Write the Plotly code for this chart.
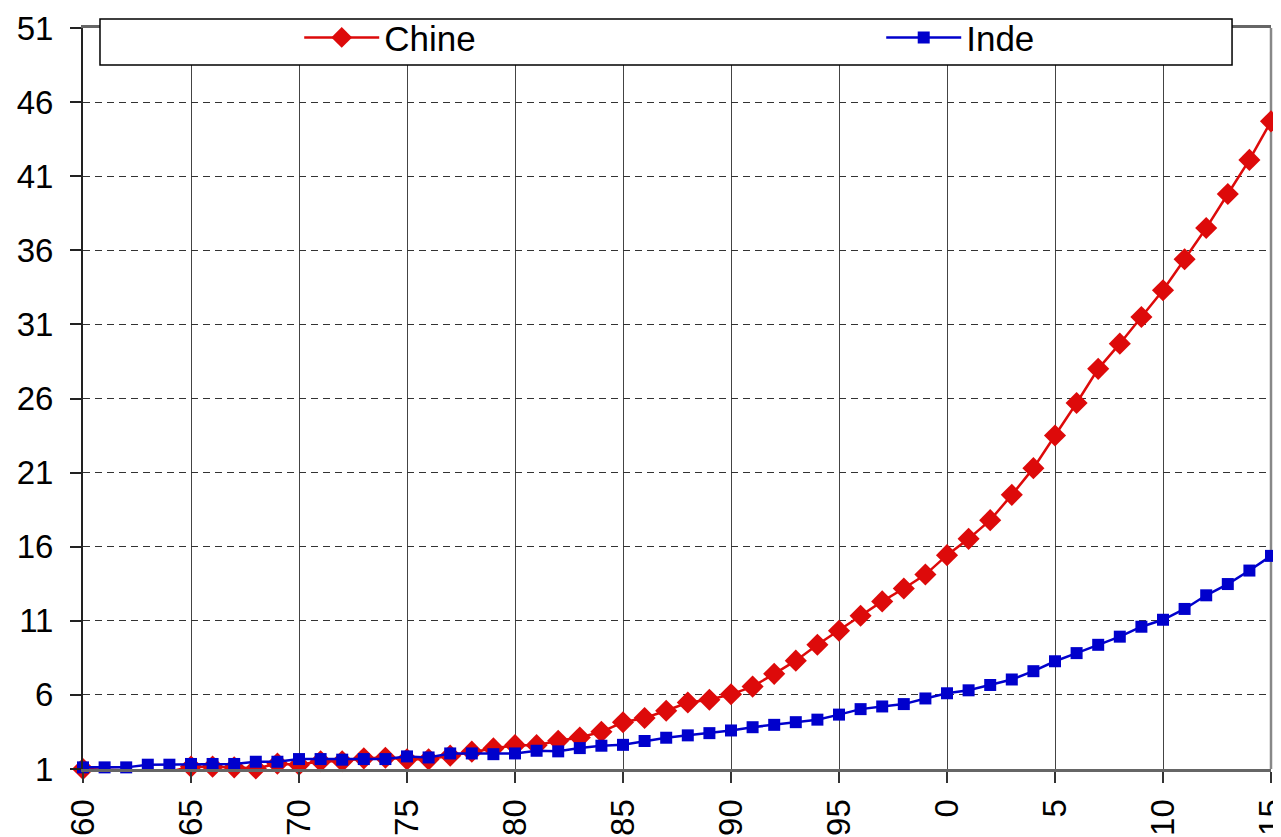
import plotly.graph_objects as go

years = list(range(1960, 2016))

chine = [1.0, None, None, None, 0.82, 1.16, 1.16, 1.11, 1.04, 1.36,
         1.29, 1.52, 1.52, 1.72, 1.76, 1.65, 1.65, 1.90, 2.17, 2.39,
         2.61, 2.61, 2.91, 3.13, 3.51, 4.15, 4.44, 4.93, 5.49, 5.67,
         6.04, 6.56, 7.42, 8.31, 9.38, 10.33, 11.34, 12.31, 13.18, 14.12,
         15.43, 16.53, 17.79, 19.5, 21.3, 23.5, 25.7, 28.0, 29.7, 31.5,
         33.3, 35.4, 37.5, 39.8, 42.1, 44.7]

inde = [1.11, 1.11, 1.11, 1.29, 1.29, 1.34, 1.34, 1.34, 1.49, 1.49,
        1.67, 1.67, 1.63, 1.67, 1.67, 1.85, 1.78, 2.05, 2.05, 2.0,
        2.05, 2.23, 2.19, 2.41, 2.57, 2.63, 2.89, 3.11, 3.27, 3.42,
        3.6, 3.82, 3.98, 4.16, 4.33, 4.67, 5.04, 5.22, 5.38, 5.76,
        6.11, 6.31, 6.67, 7.04, 7.6, 8.27, 8.82, 9.38, 9.93, 10.6,
        11.07, 11.8, 12.72, 13.48, 14.39, 15.38]

x_tickvals = list(range(1960, 2016, 5))
x_ticktext = ["60", "65", "70", "75", "80", "85", "90", "95", "0", "5", "10", "15"]
y_tickvals = list(range(1, 52, 5))

FONT = "Liberation Sans, Arial, sans-serif"

fig = go.Figure()
fig.add_trace(go.Scatter(
    x=years, y=chine, name="Chine", mode="lines+markers",
    connectgaps=True, cliponaxis=False,
    line=dict(color="#dd0a0a", width=2.5),
    marker=dict(symbol="diamond", size=17, color="#dd0a0a"),
))
fig.add_trace(go.Scatter(
    x=years, y=inde, name="Inde", mode="lines+markers",
    cliponaxis=False,
    line=dict(color="#0000cc", width=2.5),
    marker=dict(symbol="square", size=12, color="#0000cc"),
))

# legend frame
fig.add_shape(type="rect", xref="paper", yref="paper",
              x0=0.0143, x1=0.9672, y0=0.9501, y1=1.0121,
              fillcolor="white", line=dict(color="black", width=1.5),
              layer="above")
# right border (below the data marks)
fig.add_shape(type="line", xref="paper", yref="paper",
              x0=1, x1=1, y0=0, y1=1,
              line=dict(color="#888888", width=2.5), layer="below")

fig.update_layout(
    width=1273, height=829,
    margin=dict(l=75, r=10, t=20, b=68, autoexpand=False),
    paper_bgcolor="white", plot_bgcolor="rgba(0,0,0,0)",
    font=dict(family=FONT, size=33, color="black"),
    showlegend=True,
    legend=dict(
        orientation="h", x=0.182, y=0.987, xanchor="left", yanchor="middle",
        bgcolor="rgba(0,0,0,0)", borderwidth=0,
        font=dict(family=FONT, size=35, color="black"),
        entrywidth=492, itemwidth=75,
    ),
)

fig.update_xaxes(
    range=[1960, 2015], tickmode="array",
    tickvals=x_tickvals, ticktext=x_ticktext, tickangle=-90,
    ticks="outside", ticklen=11, tickwidth=1.5, tickcolor="#333333",
    ticklabelstandoff=3, ticklabeloverflow="allow",
    showgrid=True, gridcolor="#444444", gridwidth=1,
    showline=True, linecolor="#666666", linewidth=3, mirror=True,
    zeroline=False, automargin=False,
    tickfont=dict(family=FONT, size=33, color="black"),
)
fig.update_yaxes(
    range=[1, 51], tickmode="array", tickvals=y_tickvals,
    ticks="outside", ticklen=11, tickwidth=1.5, tickcolor="#222222",
    ticklabelstandoff=10, ticklabeloverflow="allow",
    showgrid=True, gridcolor="#333333", gridwidth=1, griddash="7px,5px",
    showline=True, linecolor="#222222", linewidth=2,
    zeroline=False, automargin=False,
    tickfont=dict(family=FONT, size=33, color="black"),
)

fig.write_html("out.html")
